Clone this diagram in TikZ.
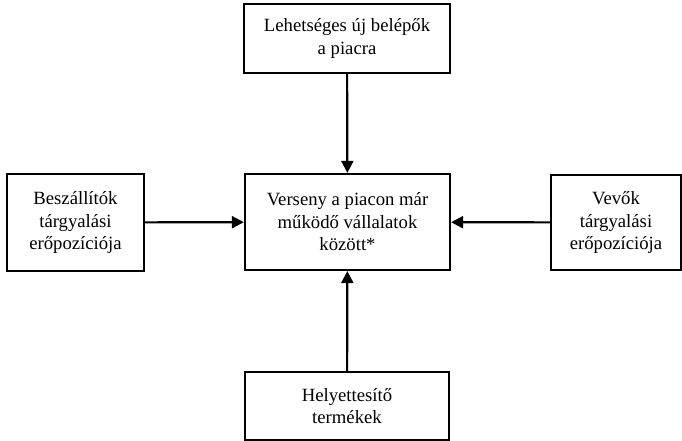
\documentclass[tikz,border=0pt]{standalone}
\usepackage{fontspec}
\setmainfont{Liberation Serif}
\usetikzlibrary{arrows.meta}

\begin{document}
\begin{tikzpicture}[x=1pt, y=-1pt,
  box/.style={draw, line width=2.2pt, align=center, inner sep=0pt,
    font=\fontsize{18.7}{22.5}\selectfont},
  force/.style={line width=2.2pt, -{Triangle[length=12pt, width=12pt]}}]
\useasboundingbox (0,0) rectangle (682,441);
\node [box, minimum width=206pt, minimum height=69pt] (entrants) at (347,38.5) {Lehetséges új belépők\\a piacra};
\node [box, minimum width=137pt, minimum height=97pt] (suppliers) at (75.5,222.5) {Beszállítók\\tárgyalási\\erőpozíciója};
\node [box, minimum width=205pt, minimum height=96pt] (rivalry) at (347.5,222) {Verseny a piacon már\\működő vállalatok\\között*};
\node [box, minimum width=130pt, minimum height=95pt] (buyers) at (616,222.5) {Vevők\\tárgyalási\\erőpozíciója};
\node [box, minimum width=204pt, minimum height=68pt] (substitutes) at (347,406) {Helyettesítő\\termékek};
\draw [force] (entrants) -- (rivalry);
\draw [force] (suppliers) -- (rivalry);
\draw [force] (buyers) -- (rivalry);
\draw [force] (substitutes) -- (rivalry);
\end{tikzpicture}
\end{document}
